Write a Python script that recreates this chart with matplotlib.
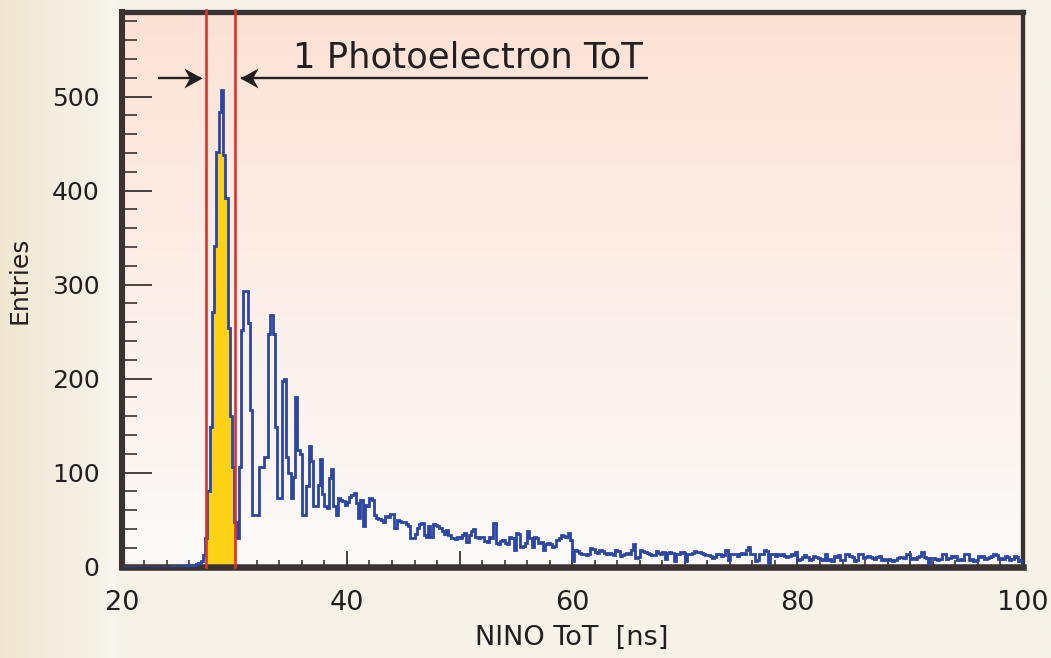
import numpy as np
import matplotlib
matplotlib.use("Agg")
import matplotlib.pyplot as plt
from matplotlib.colors import LinearSegmentedColormap
from matplotlib.ticker import MultipleLocator, FuncFormatter
from matplotlib.path import Path

# NINO time-over-threshold spectrum, equal bins from tot_lo to tot_hi (ns)
tot_lo, tot_hi = 20.0, 100.0
entries = [
    0, 0, 0, 0, 0, 0, 0, 0, 0, 0, 0, 0, 0, 0, 0, 0, 0, 0, 0, 0,
    0, 0, 1, 0, 0, 1, 0, 1, 1, 2, 1, 2, 2, 3, 4, 6, 12, 30, 80, 149,
    271, 341, 441, 484, 507, 438, 392, 254, 160, 106, 47, 31, 106, 252, 293, 293, 259, 167, 55, 55,
    55, 106, 106, 117, 117, 247, 268, 247, 149, 73, 73, 197, 200, 117, 100, 73, 95, 181, 124, 120,
    55, 55, 86, 128, 112, 65, 65, 87, 115, 77, 65, 62, 94, 104, 65, 55, 73, 71, 70, 66,
    69, 74, 76, 78, 68, 52, 71, 43, 66, 64, 73, 71, 55, 52, 51, 50, 48, 54, 53, 56,
    56, 41, 50, 49, 48, 47, 45, 43, 30, 31, 35, 41, 45, 46, 34, 32, 43, 32, 45, 44,
    43, 41, 38, 35, 39, 34, 31, 30, 29, 32, 30, 34, 36, 26, 34, 38, 40, 32, 30, 32,
    32, 27, 26, 32, 31, 46, 25, 24, 27, 28, 25, 24, 32, 31, 18, 36, 35, 21, 22, 25,
    38, 30, 21, 32, 31, 25, 26, 18, 24, 25, 24, 21, 22, 28, 30, 34, 33, 32, 36, 28,
    6, 18, 17, 15, 14, 13, 12, 13, 20, 19, 16, 15, 18, 17, 15, 14, 15, 13, 12, 18,
    17, 11, 12, 14, 15, 14, 18, 24, 9, 10, 18, 17, 16, 15, 13, 12, 12, 17, 15, 14,
    16, 8, 15, 16, 15, 6, 14, 13, 16, 15, 6, 14, 13, 15, 17, 16, 16, 15, 13, 12,
    12, 11, 9, 10, 14, 13, 11, 12, 18, 7, 14, 13, 14, 11, 14, 15, 14, 18, 21, 13,
    13, 6, 7, 14, 13, 18, 17, 4, 14, 13, 11, 13, 12, 13, 11, 10, 11, 13, 12, 16,
    7, 8, 10, 12, 10, 7, 8, 11, 10, 9, 8, 7, 13, 7, 8, 6, 11, 10, 12, 7,
    7, 14, 13, 11, 10, 6, 7, 14, 13, 9, 10, 11, 10, 9, 8, 10, 11, 7, 8, 7,
    8, 7, 6, 7, 9, 10, 10, 9, 14, 13, 8, 9, 8, 10, 11, 16, 10, 9, 4, 9,
    9, 8, 7, 8, 14, 13, 8, 9, 11, 10, 11, 7, 8, 7, 14, 13, 7, 8, 6, 7,
    11, 10, 11, 8, 9, 10, 11, 13, 12, 8, 9, 8, 11, 10, 7, 8, 11, 10, 6, 7,
]

# single photoelectron selection (yellow), starting at yellow_lo
yellow_lo = 27.6
yellow_entries = [80, 149, 271, 341, 441, 441, 441, 438, 392, 254, 160, 106, 47]

# cut window (red lines)
cut_lo, cut_hi = 27.45, 30.05

x_labels = [20, 40, 60, 80, 100]
y_labels = [0, 100, 200, 300, 400, 500]

blue = "#2b46a4"
gold = "#fcd116"
red = "#e2302a"
frame = "#3a3331"
ink = "#231f20"

plt.rcParams["font.family"] = ["DejaVu Sans"]

fig = plt.figure(figsize=(10.51, 6.58), dpi=100)

# page background, slightly more yellow at the far left
bg = fig.add_axes([0, 0, 1, 1], zorder=-10)
bg.axis("off")
page = LinearSegmentedColormap.from_list(
    "page", [(0, "#f0e6d0"), (0.04, "#f3ecdd"), (0.09, "#f6f1e6"),
             (0.106, "#f8f6ef"), (0.114, "#f6f2e8"), (1, "#f7f3e9")])
bg.imshow(np.linspace(0, 1, 512)[None, :], cmap=page, aspect="auto",
          extent=[0, 1, 0, 1])

pos = [0.1158, 0.1388, 0.8573, 0.843]

# salmon to white gradient inside the frame
gax = fig.add_axes(pos, zorder=-5)
gax.axis("off")
shade = LinearSegmentedColormap.from_list(
    "shade", [(0, "#fbfaf8"), (0.45, "#fcf0ea"), (1, "#fde2d5")])
gax.imshow(np.linspace(0, 1, 256)[:, None], cmap=shade, aspect="auto",
           origin="lower", extent=[0, 1, 0, 1])

ax = fig.add_axes(pos)
ax.patch.set_alpha(0)

edges = np.linspace(tot_lo, tot_hi, len(entries) + 1)
width = (tot_hi - tot_lo) / len(entries)
yedges = yellow_lo + width * np.arange(len(yellow_entries) + 1)

ax.stairs(yellow_entries, yedges, fill=True, color=gold, lw=0, zorder=2)
ax.stairs(entries, edges, color=blue, lw=2.0, zorder=3)

for c in (cut_lo, cut_hi):
    ax.axvline(c, ymin=0, ymax=1.004, color=red, lw=1.9, zorder=5, clip_on=False)

ax.set_xlim(tot_lo, tot_hi)
ax.set_ylim(0, 590)

# "1 Photoelectron ToT" with arrows pointing at the window
ax.text(50.7, 530.5, "1 Photoelectron ToT", ha="center", va="baseline",
        fontsize=25.5, color=ink, zorder=6)
head = Path([(0, 0), (-1, 0.55), (-0.7, 0), (-1, -0.55), (0, 0)],
            [Path.MOVETO, Path.LINETO, Path.LINETO, Path.LINETO, Path.CLOSEPOLY])
head_left = Path(head.vertices * [-1, 1], head.codes)
arrow_y = 520.2
ax.plot([23.2, 27.0], [arrow_y, arrow_y], color=ink, lw=1.7,
        solid_capstyle="butt", zorder=6)
ax.plot([27.13], [arrow_y], marker=head, ms=26, color=ink, mec="none", zorder=6)
ax.plot([30.6, 66.75], [arrow_y, arrow_y], color=ink, lw=1.7,
        solid_capstyle="butt", zorder=6)
ax.plot([30.5], [arrow_y], marker=head_left, ms=26, color=ink, mec="none", zorder=6)

# frame
for side, lw in (("left", 4.4), ("bottom", 4.7), ("top", 3.8), ("right", 3.1)):
    ax.spines[side].set_color(frame)
    ax.spines[side].set_linewidth(lw)
    ax.spines[side].set_capstyle("projecting")

ax.xaxis.set_major_locator(MultipleLocator(10))
ax.xaxis.set_minor_locator(MultipleLocator(2))
ax.xaxis.set_major_formatter(FuncFormatter(
    lambda v, p: f"{v:.0f}" if round(v) in x_labels else ""))
ax.yaxis.set_major_locator(MultipleLocator(100))
ax.yaxis.set_minor_locator(MultipleLocator(20))
ax.yaxis.set_major_formatter(FuncFormatter(
    lambda v, p: f"{v:.0f}" if round(v) in y_labels else ""))

ax.tick_params(axis="x", which="major", direction="in", length=11.5, width=1.3,
               color=frame, labelsize=19.5, labelcolor=ink, pad=17)
ax.tick_params(axis="x", which="minor", direction="in", length=5, width=1.2,
               color=frame)
ax.tick_params(axis="y", which="major", direction="in", length=21.5, width=1.3,
               color=frame, labelsize=18, labelcolor=ink, pad=16)
ax.tick_params(axis="y", which="minor", direction="in", length=10.8, width=1.2,
               color=frame)

ax.set_xlabel("NINO ToT  [ns]", fontsize=19.5, color=ink, labelpad=6)
ax.set_ylabel("Entries", fontsize=18, color=ink)
ax.yaxis.set_label_coords(-0.1, 0.517)

fig.savefig("out.png", dpi=100)
